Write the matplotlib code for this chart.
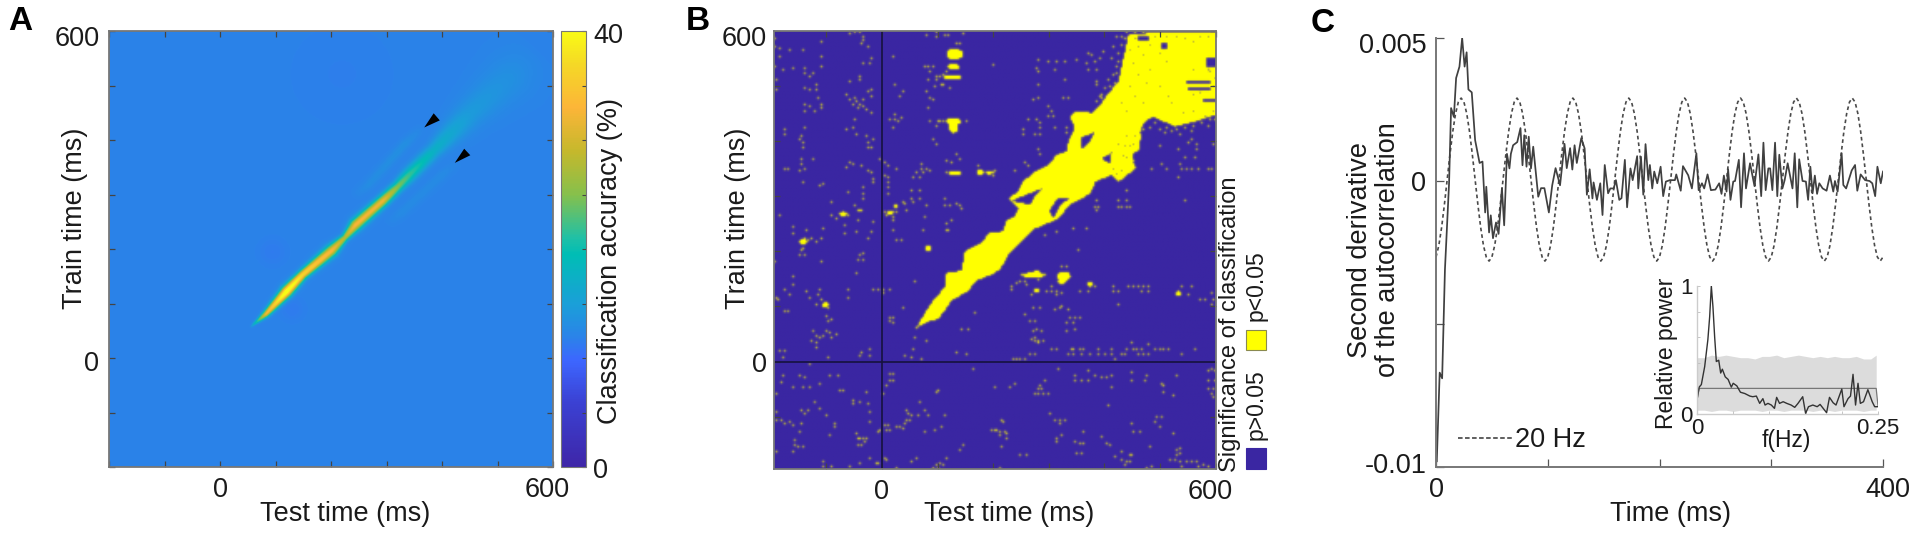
import numpy as np
import matplotlib
matplotlib.use("Agg")
import matplotlib.pyplot as plt
from matplotlib.colors import LinearSegmentedColormap
from matplotlib.patches import Rectangle
from matplotlib.path import Path
from matplotlib.transforms import ScaledTranslation

plt.rcParams['font.family'] = ['Liberation Sans', 'DejaVu Sans']

W, H = 1920, 539
TXT = "#1a1a1a"
SPINE = "#777777"

# ---- panel A: ridge read along the diagonal (ms, ms, %, half width ms)
ridge_test = [55, 61, 83, 120, 149, 201, 225, 244, 293, 320, 341, 385, 451, 525, 570]
ridge_train = [56, 62, 81, 122, 153, 197, 221, 244, 288, 314, 336, 380, 449, 518, 565]
ridge_peak = [12, 17, 32, 43, 37, 33, 28, 33, 32, 25, 22, 17.5, 14.5, 13.3, 12]
ridge_width = [1.5, 1.8, 4, 6.5, 5.5, 7, 4.5, 7, 6.5, 6.5, 8, 9, 18, 28, 30]
lobe_up_test = [240, 267, 333, 368]
lobe_up_train = [295, 317, 392, 425]
lobe_up_peak = [12, 13, 13.3, 12]
lobe_low_test = [300, 326, 400, 430]
lobe_low_train = [245, 266, 336, 362]
lobe_low_peak = [12, 12.8, 12.8, 12]
dark_test = [95, 130, 220]
dark_train = [195, 90, 520]
dark_radius = [18, 16, 70]
dark_drop = [0.6, 0.6, 0.3]
arrow1_test = [368, 385, 396]
arrow1_train = [423, 449, 436]
arrow2_test = [423, 440, 451]
arrow2_train = [358, 384, 372]

# ---- panel B: outline of the significant ribbon
ribbon = [(62, 63), (86, 103), (113, 136), (115, 160), (143, 165), (149, 200), (182, 218),
          (191, 233), (218, 236), (224, 257), (239, 263), (245, 278), (227, 295), (245, 309),
          (254, 327), (275, 345), (299, 357), (314, 375), (332, 381), (335, 399), (347, 423),
          (338, 445), (347, 454), (377, 451), (395, 470), (410, 490), (425, 508), (434, 550),
          (443, 593), (491, 597), (600, 597), (600, 448), (563, 436), (527, 427), (485, 445),
          (467, 430), (461, 384), (449, 378), (455, 351), (425, 327), (413, 339), (383, 327),
          (374, 305), (335, 284), (317, 260), (275, 242), (230, 200), (212, 169), (200, 160),
          (170, 148), (152, 127), (125, 112), (101, 78), (80, 72)]
hole1 = [(358, 408), (383, 417), (371, 396), (356, 384)]
hole2 = [(395, 369), (413, 380), (410, 360), (395, 366)]
hole3 = [(299, 272), (314, 296), (338, 296), (320, 284), (308, 260)]
hole4 = [(233, 293), (263, 305), (290, 316), (275, 300), (266, 284), (239, 290)]
hole5 = [(545, 511), (590, 511), (590, 505), (545, 505)]
hole5b = [(548, 498), (590, 498), (590, 492), (548, 492)]
hole6 = [(575, 478), (600, 478), (600, 472), (575, 472)]
hole7 = [(582, 552), (600, 552), (600, 535), (582, 535)]
hole8 = [(460, 592), (480, 592), (480, 583), (460, 583)]
hole9 = [(500, 580), (512, 580), (512, 566), (500, 566)]
ribbon_holes = [hole1, hole2, hole3, hole4, hole5, hole5b, hole6, hole7, hole8, hole9]
ribbon_gaps = [(500, 560), (510, 545), (470, 555), (480, 530), (460, 520), (475, 505), (500, 500),
               (515, 480), (520, 470), (560, 530), (445, 500), (455, 480), (430, 470), (440, 455),
               (470, 470), (530, 590), (545, 585), (570, 590), (585, 590), (560, 580), (590, 525),
               (585, 530), (480, 575), (490, 590), (510, 590), (455, 585), (460, 570), (450, 540),
               (445, 565), (540, 450), (560, 455), (580, 445), (595, 455), (440, 370), (450, 360),
               (430, 345), (420, 340), (415, 350), (435, 390), (445, 390), (425, 395), (440, 410),
               (455, 410), (465, 400), (475, 395), (560, 485), (570, 488), (595, 500), (597, 515),
               (450, 395), (432, 372), (462, 415)]
ribbon_fringe = [(410, 500), (415, 520), (420, 535), (425, 560), (430, 575), (420, 590), (430, 590), (435, 585),
                 (415, 570), (405, 510), (400, 495), (395, 485), (425, 545), (418, 505), (410, 487), (440, 597),
                 (455, 597), (470, 597), (420, 480), (430, 490), (405, 478), (395, 478), (412, 550), (422, 522),
                 (480, 425), (490, 432), (500, 420), (510, 425), (520, 418), (530, 420), (545, 425), (560, 428),
                 (575, 432), (590, 440), (598, 438), (470, 420), (508, 415), (535, 412), (585, 427), (555, 418)]
# test, train, half widths of the solid yellow patches
blobs = [(130, 558, 14, 10), (128, 535, 10, 5), (125, 516, 17, 3), (128, 436, 14, 5), (128, 425, 8, 10),
         (131, 342, 12, 3), (176, 343, 6, 5), (191, 343, 6, 3), (82, 206, 5, 5), (271, 157, 22, 4),
         (278, 160, 6, 5), (326, 155, 12, 8), (323, 145, 8, 3), (374, 140, 5, 4), (532, 124, 5, 4),
         (278, 129, 5, 3), (-40, 275, 5, 2), (-70, 268, 8, 3), (-103, 103, 6, 4), (-142, 218, 6, 5),
         (16, 271, 6, 3), (24, 283, 4, 3)]
specks_upper_left = [(-193, 587), (-193, 570), (-184, 554), (-184, 569), (-193, 535), (-179, 529), (-161, 532),
    (-167, 564), (-143, 564), (-109, 580), (-109, 554), (-139, 532), (-139, 523), (-130, 517), (-124, 523),
    (-109, 535), (-191, 511), (-191, 493), (-139, 496), (-130, 494), (-119, 501), (-119, 493), (-115, 479),
    (-139, 467), (-130, 463), (-109, 467), (-109, 461), (-139, 454), (-121, 454), (-176, 422), (-176, 413),
    (-139, 425), (-148, 402), (-142, 396), (-142, 388), (-145, 408), (-145, 366), (-145, 357), (-148, 347),
    (-140, 348), (-124, 367), (-175, 350), (-169, 350), (-143, 325), (-107, 322), (-113, 319), (-145, 215),
    (-139, 224), (-133, 221), (-127, 224), (-118, 218), (-109, 224), (-137, 239), (-160, 233), (-161, 243),
    (-143, 206), (-148, 218), (-107, 241), (-91, 289), (-186, 265), (-91, 265), (-82, 260), (-73, 265),
    (-67, 265), (-70, 272), (-61, 266), (-67, 248), (-67, 233), (-47, 235), (-44, 257), (-50, 283), (-35, 315),
    (-35, 305), (-35, 296), (-16, 254), (-20, 236), (-25, 223), (-17, 330), (-17, 324), (-25, 345), (-19, 342),
    (-62, 307), (-52, 357), (-59, 360), (-64, 351), (-38, 356), (-28, 408), (-25, 396), (-26, 387), (-17, 402),
    (-19, 387), (-46, 411), (-52, 423), (-64, 422), (-50, 439), (-58, 475), (-49, 479), (-47, 471), (-40, 466),
    (-34, 463), (-28, 457), (-19, 451), (-52, 466), (-43, 460), (-64, 484), (-35, 475), (-25, 489), (-19, 493),
    (-19, 481), (-40, 511), (-40, 518), (-59, 508), (-34, 541), (-22, 541), (-19, 549), (-37, 578), (-35, 584),
    (-25, 572), (-35, 588), (-60, 595), (-49, 597), (-40, 597)]
specks_upper_mid = [(-6, 366), (5, 360), (11, 354), (5, 336), (11, 335), (26, 349), (11, 324), (10, 315), (10, 305),
    (5, 272), (10, 269), (24, 281), (20, 271), (25, 271), (20, 263), (20, 257), (8, 266), (38, 290), (41, 287),
    (44, 275), (53, 296), (56, 290), (53, 309), (68, 309), (68, 296), (80, 283), (77, 263), (20, 239), (24, 221),
    (34, 221), (74, 237), (14, 439), (22, 448), (22, 439), (28, 437), (34, 442), (20, 554), (22, 503), (31, 480),
    (37, 489), (83, 460), (92, 404), (97, 393), (62, 342), (71, 348), (74, 342), (80, 348), (68, 335), (70, 357),
    (56, 333), (86, 347), (78, 489), (86, 477), (92, 475), (98, 428), (85, 437), (104, 437), (94, 499), (107, 503),
    (110, 503), (121, 497), (98, 517), (104, 517), (83, 534), (77, 535), (92, 535), (86, 526), (83, 511), (98, 511),
    (134, 576), (140, 576), (116, 526), (110, 520), (140, 515), (125, 417), (110, 437), (152, 436), (101, 437),
    (132, 376), (138, 367), (125, 360), (116, 363), (116, 342), (200, 343), (198, 336), (173, 355), (113, 283),
    (122, 283), (134, 287), (140, 284), (143, 278), (113, 296), (125, 255), (115, 251), (116, 237), (119, 237),
    (80, 593), (97, 597), (98, 590), (113, 593), (119, 593), (145, 596), (199, 538), (20, 423)]
specks_upper_right = [(281, 546), (299, 544), (314, 544), (329, 544), (350, 546), (371, 560), (377, 557), (398, 563),
    (392, 550), (383, 544), (368, 541), (371, 529), (386, 529), (278, 532), (281, 526), (311, 529), (329, 511),
    (281, 502), (386, 509), (386, 501), (272, 475), (281, 477), (326, 477), (335, 477), (299, 463), (305, 454),
    (308, 445), (299, 445), (263, 440), (278, 440), (284, 433), (284, 423), (311, 423), (332, 423), (254, 422),
    (254, 413), (275, 411), (284, 411), (332, 414), (281, 384), (284, 376), (257, 360), (263, 354), (239, 345),
    (284, 330), (203, 345), (549, 396), (557, 402), (566, 393), (533, 384), (566, 384), (545, 369), (563, 369),
    (503, 357), (512, 348), (539, 348), (548, 348), (557, 348), (569, 348), (587, 348), (593, 348), (596, 393),
    (536, 357), (533, 333), (485, 348), (545, 293), (500, 390), (383, 281), (389, 281), (425, 281), (431, 281),
    (440, 281), (446, 281), (425, 292), (440, 292), (386, 292), (438, 309), (386, 273), (344, 242), (368, 240),
    (314, 236), (293, 230), (353, 201), (386, 471), (396, 471), (406, 471), (416, 471), (426, 471), (436, 471),
    (390, 481), (402, 481), (414, 481), (426, 481)]
specks_lower_right = [(233, 130), (233, 136), (241, 142), (248, 145), (257, 145), (260, 139), (281, 148), (269, 122),
    (296, 127), (305, 127), (314, 127), (323, 124), (314, 121), (305, 136), (323, 172), (332, 172), (356, 127),
    (371, 127), (383, 136), (416, 135), (416, 127), (425, 127), (443, 137), (452, 137), (461, 136), (470, 137),
    (479, 137), (467, 126), (479, 126), (539, 136), (557, 136), (551, 121), (593, 124), (572, 113), (581, 112),
    (596, 112), (593, 102), (424, 104), (272, 98), (284, 98), (310, 95), (319, 98), (334, 95), (323, 101), (256, 86),
    (266, 74), (274, 74), (338, 80), (347, 80), (356, 80), (332, 69), (344, 69), (332, 54), (347, 57), (272, 55),
    (278, 57), (286, 54), (274, 44), (274, 38), (281, 38), (290, 38), (269, 39), (281, 33), (449, 34), (478, 30),
    (317, -15), (370, -18), (346, -26), (383, -26), (394, -29), (403, -29), (412, -26), (449, -20), (475, -26),
    (530, -26), (587, -18), (593, -14), (598, -18), (347, -35), (359, -35), (370, -35), (292, -35), (447, -35),
    (472, -35), (598, -35), (587, -36), (238, -41), (230, -46), (284, -44), (281, -50), (286, -50), (274, -58),
    (281, -58), (290, -58), (298, -58), (412, -46), (502, -41), (506, -44), (505, -56), (523, -63), (587, -50),
    (596, -50), (592, -58), (596, -64), (407, -79), (302, -95), (215, -106), (218, -111), (311, -106), (320, -106),
    (329, -106), (320, -113), (491, -109), (494, -101), (502, -101), (500, -118), (449, -113), (450, -129), (463, -129),
    (524, -132), (206, -124), (212, -127), (221, -127), (224, -132), (211, -135), (223, -139), (362, -129), (323, -135),
    (313, -139), (314, -147), (395, -138), (347, -147), (355, -150), (362, -150), (404, -150), (410, -151), (482, -156),
    (215, -154), (350, -168), (358, -168), (247, -169), (260, -169), (430, -165), (419, -173), (445, -171), (449, -171),
    (431, -180), (440, -182), (446, -182), (437, -187), (530, -161), (536, -159), (536, -168), (529, -171), (516, -179),
    (527, -178), (536, -182), (548, -183), (557, -183), (566, -183), (537, -191), (569, -191), (578, -188), (587, -191),
    (485, -191), (476, -194), (212, -194)]
row21_test = [305, 314, 341, 344, 356, 362, 389, 413, 439, 452, 458, 466, 490, 500, 506, 514, 562]
row12_test = [266, 275, 335, 344, 359, 374, 389, 401, 413, 431, 437, 460, 470, 479, 539]
row5_test = [236, 242, 248, 257, 419]
specks_lower_left = [(-146, 201), (-148, 193), (-139, 193), (-40, 193), (-34, 195), (-43, 185), (-35, 185), (-109, 181),
    (-194, 181), (-46, 161), (-160, 153), (-161, 139), (-176, 129), (-167, 122), (-137, 127), (-112, 130), (-115, 122),
    (-130, 116), (-191, 115), (-187, 113), (-61, 129), (-62, 116), (-109, 112), (-97, 98), (-118, 103), (-175, 92),
    (-170, 92), (-100, 83), (-97, 72), (-91, 76), (-125, 54), (-100, 55), (-94, 51), (-91, 44), (-112, 42), (-106, 46),
    (-83, 48), (-119, 46), (-127, 36), (-119, 33), (-119, 25), (-185, 18), (-175, 18), (-179, 7), (-97, 8), (-41, 9),
    (-37, 16), (-23, 21), (-23, 10), (-16, 130), (-7, 130), (2, 131), (2, 124), (13, 130), (13, 78), (20, 78), (20, 71),
    (13, 74), (36, 97), (59, 145), (58, 44), (79, 36), (55, 21), (53, 7), (71, 3), (143, 59), (155, 59), (166, 87),
    (134, 15), (152, 12), (61, 60), (-131, -5), (-179, -26), (-148, -26), (-140, -30), (-95, -26), (-80, -26), (-182, -38),
    (-161, -46), (-142, -46), (-130, -46), (-112, -41), (-77, -53), (-71, -53), (-28, -56), (-191, -60), (-53, -72),
    (-53, -78), (-121, -75), (-113, -86), (-41, -75), (-26, -78), (-133, -88), (-23, -92), (-145, -90), (-139, -96),
    (-100, -98), (-22, -109), (-190, -91), (-190, -106), (-182, -106), (-175, -112), (-166, -109), (-160, -115), (-145, -113),
    (-86, -112), (-85, -119), (-149, -127), (-94, -135), (-157, -142), (-157, -152), (-152, -155), (-143, -156), (-160, -165),
    (-47, -130), (-44, -139), (-41, -139), (-35, -139), (-28, -139), (-31, -147), (-44, -153), (-37, -153), (-191, -165),
    (-107, -183), (-106, -190), (-92, -190), (-59, -191), (-40, -185), (-22, -176), (-10, -185), (-7, -185), (-7, -127),
    (-4, -124), (7, -124), (13, -124), (5, -115), (11, -115), (13, -24), (19, -23), (14, -35), (20, -35), (8, -44), (1, -58),
    (40, 11), (162, -15), (202, -46), (98, -56), (101, -53), (68, -75), (43, -88), (47, -95), (53, -97), (65, -97), (77, -90),
    (83, -99), (44, -106), (49, -106), (41, -112), (26, -118), (32, -118), (37, -123), (113, -97), (107, -120), (94, -124),
    (77, -129), (145, -153), (139, -161), (116, -176), (62, -175), (53, -182), (5, -176), (8, -180), (26, -194), (98, -187),
    (104, -185), (109, -188), (92, -194), (101, -194), (197, -124), (202, -124)]

# ---- panel C: second derivative (1e-3)
curve_t = [0.7, 3.3, 5.5, 8, 11.7, 13.5, 16, 18, 21, 23.4, 25.6, 27.4, 29, 32, 35, 39, 41.6, 44, 45, 47.5, 49, 51, 53.7, 56,
    59, 61, 63.5, 65.7, 67, 69, 72.7, 75.6, 77.4, 79, 81, 83, 85, 87, 91.5, 94, 97, 101, 104, 107, 111, 115, 117, 120, 122,
    124, 126, 130, 133, 135, 137.5, 140, 141, 144, 147, 149, 151, 154, 156, 159, 161, 164, 166, 169, 171, 174, 176, 180,
    181, 183.4, 185.5, 187.5, 190, 191.4, 193.5, 195.3, 198, 201, 203.3, 205.7, 209.3, 213.8, 215, 219, 221, 225.7, 229,
    233, 235, 238, 240, 243, 246, 250, 253.4, 255.5, 257.6, 260, 261.4, 263.5, 266, 267.6, 271, 273, 275.6, 277.4, 281,
    285, 286, 288.5, 291, 293, 295, 297.4, 299, 301, 303.4, 305.4, 307.2, 310, 312, 314.7, 319, 321, 323.3, 325, 328,
    331, 333, 335, 337, 339, 341, 343, 346, 349.5, 352.5, 355.5, 357, 359.4, 363, 364.5, 367, 372, 375, 377, 380, 384,
    388, 390.4, 393, 395, 398, 400]
curve_v = [-9.8, -6.7, -6.9, -3.1, -0.07, 2.55, 2.24, 3.6, 4.0, 5.0, 4.0, 4.5, 3.2, 3.1, 1.43, 0.63, 0.68, -1.1, -0.2, -1.8,
    -1.2, -2.0, -1.45, -1.85, -0.25, -1.55, 0.95, 0.44, 0.95, 1.25, 1.36, 1.85, 0.55, 1.6, 0.5, 1.55, 0.44, 1.2, -0.55,
    -0.25, -0.25, -1.1, -0.15, 0.45, -0.15, 1.3, 0.45, 1.15, 0.4, 1.25, 0.63, 1.5, 1.14, -0.48, 0.41, -0.61, -0.05, -0.66,
    -0.08, -1.19, 0.56, -0.43, -0.26, -0.26, 0.03, -0.66, -0.6, 0.74, -0.92, 0.44, 0.03, 0.87, -0.26, 0.85, -0.48, 1.29,
    0.03, 0.56, -0.26, 0.33, -0.08, 0.5, -0.53, -0.02, 0.03, 0.03, 0.23, -0.34, 0.52, 0.2, -0.26, 0.97, -0.32, -0.08,
    -0.26, 0.23, -0.32, -0.3, -0.08, -0.45, 0.19, -0.37, 0.41, -0.66, -0.02, 0.0, 0.74, -0.92, 0.97, -0.26, 0.62, -0.18,
    0.15, 0.93, -0.53, 1.34, -0.32, 0.44, 0.44, -0.32, 1.34, -0.53, 0.92, -0.26, 0.03, 0.62, -0.26, 0.97, -0.92, 0.76,
    0.0, -0.02, -0.66, 0.5, -0.43, 0.19, -0.45, -0.08, -0.26, -0.34, 0.19, -0.37, 0.0, -0.37, 0.97, -0.14, -0.26, 0.37,
    0.56, -0.34, 0.23, 0.03, 0.0, -0.08, -0.53, 0.5, -0.08, 0.33]
# 20 Hz reference, one value every 2.5 ms (1e-3)
sine_t = np.arange(0, 400.1, 2.5)
sine_v = [-2.66, -2.26, -1.63, -0.83, 0.05, 0.93, 1.73, 2.36, 2.76, 2.9, 2.76, 2.36, 1.73, 0.93, 0.05, -0.83, -1.63, -2.26, -2.66, -2.8,
          -2.66, -2.26, -1.63, -0.83, 0.05, 0.93, 1.73, 2.36, 2.76, 2.9, 2.76, 2.36, 1.73, 0.93, 0.05, -0.83, -1.63, -2.26, -2.66, -2.8,
          -2.66, -2.26, -1.63, -0.83, 0.05, 0.93, 1.73, 2.36, 2.76, 2.9, 2.76, 2.36, 1.73, 0.93, 0.05, -0.83, -1.63, -2.26, -2.66, -2.8,
          -2.66, -2.26, -1.63, -0.83, 0.05, 0.93, 1.73, 2.36, 2.76, 2.9, 2.76, 2.36, 1.73, 0.93, 0.05, -0.83, -1.63, -2.26, -2.66, -2.8,
          -2.66, -2.26, -1.63, -0.83, 0.05, 0.93, 1.73, 2.36, 2.76, 2.9, 2.76, 2.36, 1.73, 0.93, 0.05, -0.83, -1.63, -2.26, -2.66, -2.8,
          -2.66, -2.26, -1.63, -0.83, 0.05, 0.93, 1.73, 2.36, 2.76, 2.9, 2.76, 2.36, 1.73, 0.93, 0.05, -0.83, -1.63, -2.26, -2.66, -2.8,
          -2.66, -2.26, -1.63, -0.83, 0.05, 0.93, 1.73, 2.36, 2.76, 2.9, 2.76, 2.36, 1.73, 0.93, 0.05, -0.83, -1.63, -2.26, -2.66, -2.8,
          -2.66, -2.26, -1.63, -0.83, 0.05, 0.93, 1.73, 2.36, 2.76, 2.9, 2.76, 2.36, 1.73, 0.93, 0.05, -0.83, -1.63, -2.26, -2.66, -2.8,
          -2.66]

# ---- inset: relative power
power_f = [0, .003, .006, .0106, .015, .0175, .0198, .022, .0244, .0267, .03, .0327, .035, .039, .043, .0474, .05, .055, .06, .066,
    .073, .077, .082, .0866, .091, .094, .098, .1027, .107, .11, .114, .119, .124, .13, .135, .1395, .146, .15, .154, .16, .166,
    .17, .179, .183, .188, .192, .2, .203, .2086, .212, .2155, .219, .2224, .2256, .23, .236, .242, .2454, .25]
power_v = [.11, .21, .23, .37, .58, .76, 1.0, .84, .6, .41, .42, .32, .35, .29, .27, .21, .24, .22, .17, .16, .14, .135, .14, .083,
    .12, .07, .083, .07, .044, .13, .083, .096, .083, .07, .052, .083, .135, .005, .057, .07, .057, .075, .01, .13, .088, .07,
    .195, .057, .12, .14, .31, .07, .24, .083, .096, .19, .096, .057, .057]
shade_f = [0, .01, .02, .03, .04, .05, .06, .07, .08, .09, .10, .11, .12, .13, .14, .15, .16, .17, .18, .19, .20, .21, .22, .23, .24, .2475]
shade_top = [.44, .44, .46, .45, .46, .45, .44, .44, .43, .45, .45, .46, .44, .45, .46, .45, .44, .45, .44, .45, .44, .44, .45, .43, .43, .46]
shade_low = [.03, .03, .02, .03, .03, .02, .03, .03, .03, .02, .03, .03, .02, .03, .03, .03, .02, .03, .03, .02, .03, .03, .03, .02, .03, .03]
mean_f = [0, .003, .05, .10, .15, .20, .2475, .25]
mean_v = [.11, .2, .2, .2, .2, .2, .2, .06]


def px_axes(fig, left, top, right, bottom):
    return fig.add_axes([left / W, 1 - bottom / H, (right - left) / W, (bottom - top) / H])


def ftext(fig, x, y, s, **kw):
    kw.setdefault('color', TXT)
    kw.setdefault('ha', 'center')
    kw.setdefault('va', 'center')
    return fig.text(x / W, 1 - y / H, s, **kw)


def shift_label(fig, label, dx, dy):
    # nudge one tick label by pixels, the journal figure has them off the ticks
    label.set_transform(label.get_transform() + ScaledTranslation(dx / 100, -dy / 100, fig.dpi_scale_trans))


def style_ax(ax, width=1.3):
    for s in ax.spines.values():
        s.set_color(SPINE)
        s.set_linewidth(width)
    ax.tick_params(direction='in', length=4, width=0.9, color='#444444', top=True, right=True, labelsize=19.5, labelcolor=TXT)


parula = LinearSegmentedColormap.from_list('parula_like', [
    (0.0, '#3e26a8'), (6 / 40, '#3b42d4'), (9.7 / 40, '#3d66ff'), (12 / 40, '#2a84e8'), (15 / 40, '#1aa0d8'),
    (19.5 / 40, '#00bdb5'), (21 / 40, '#1fc0a6'), (25 / 40, '#86c04c'), (29 / 40, '#c5b82c'), (33 / 40, '#fcb538'),
    (37 / 40, '#f5d826'), (1.0, '#f9fb15')])

fig = plt.figure(figsize=(W / 100, H / 100), dpi=100)

# ---------------- A
ax = px_axes(fig, 109, 31, 553, 467)
grid = np.arange(-198, 600, 2.0)
xx, yy = np.meshgrid(grid, grid)
along = (xx + yy) / 2
across = (xx - yy) / np.sqrt(2)
acc = np.full(xx.shape, 12.0)
knots_u = (np.array(ridge_test) + np.array(ridge_train)) / 2
offs = (np.array(ridge_test) - np.array(ridge_train)) / np.sqrt(2)
peak = np.interp(along, knots_u, ridge_peak, left=12, right=12)
wid = np.interp(along, knots_u, ridge_width)
acc = np.maximum(acc, 12 + (peak - 12) * np.exp(-(across - np.interp(along, knots_u, offs)) ** 2 / (2 * wid ** 2)))
for t_k, tr_k, p_k in [(lobe_up_test, lobe_up_train, lobe_up_peak), (lobe_low_test, lobe_low_train, lobe_low_peak)]:
    u_k = (np.array(t_k) + np.array(tr_k)) / 2
    o_k = (np.array(t_k) - np.array(tr_k)) / np.sqrt(2)
    p = np.interp(along, u_k, p_k, left=12, right=12)
    acc = np.maximum(acc, 12 + (p - 12) * np.exp(-(across - np.interp(along, u_k, o_k)) ** 2 / (2 * 6.0 ** 2)))
for cx, cy, r, d in zip(dark_test, dark_train, dark_radius, dark_drop):
    acc -= d * np.exp(-((xx - cx) ** 2 + (yy - cy) ** 2) / (2 * r ** 2))
im = ax.imshow(acc, origin='lower', extent=[-200, 600, -200, 600], cmap=parula, vmin=0, vmax=40,
               aspect='auto', interpolation='bilinear')
ax.fill(arrow1_test, arrow1_train, color='black', lw=0)
ax.fill(arrow2_test, arrow2_train, color='black', lw=0)
ax.set_xlim(-200, 600)
ax.set_ylim(-200, 600)
ticks = list(range(-200, 601, 100))
labels = ['0' if t == 0 else '600' if t == 600 else '' for t in ticks]
ax.set_xticks(ticks)
ax.set_xticklabels(labels)
ax.set_yticks(ticks)
ax.set_yticklabels(labels)
style_ax(ax)
ax.tick_params(pad=7)
shift_label(fig, ax.get_xticklabels()[-1], -6, 0)
shift_label(fig, ax.get_yticklabels()[-1], 0, 5)
shift_label(fig, ax.get_yticklabels()[2], 0, 3)
ftext(fig, 345, 514, 'Test time (ms)', fontsize=19.5)
ftext(fig, 75, 218, 'Train time (ms)', fontsize=19.5, rotation=90)
ftext(fig, 20, 22, 'A', fontsize=24, fontweight='bold', color='black')

cax = px_axes(fig, 561, 31, 586, 467)
cb = fig.colorbar(im, cax=cax)
cb.set_ticks(list(range(0, 41, 5)))
cb.set_ticklabels(['0', '', '', '', '', '', '', '', '40'])
cb.outline.set_edgecolor(SPINE)
cax.tick_params(direction='in', length=3, width=0.8, color='#444444', labelsize=19.5, labelcolor=TXT, pad=5)
shift_label(fig, cax.get_yticklabels()[-1], 0, 2)
shift_label(fig, cax.get_yticklabels()[0], 0, 1)
ftext(fig, 610, 261, 'Classification accuracy (%)', fontsize=19.5, rotation=90)

# ---------------- B
ax = px_axes(fig, 773.5, 31, 1215.5, 469)
cell = 3.0
cx_b = np.arange(-195 + cell / 2, 600, cell)
cy_b = np.arange(-195 + cell / 2, 600, cell)
gx, gy = np.meshgrid(cx_b, cy_b)
pts = np.column_stack([gx.ravel(), gy.ravel()])
sig = Path(ribbon + [ribbon[0]]).contains_points(pts).reshape(gx.shape).astype(float)
for hole in ribbon_holes:
    sig[Path(hole + [hole[0]]).contains_points(pts).reshape(gx.shape)] = 0
for tx, ty, rx, ry in blobs:
    sig[((gx - tx) / max(rx, cell / 2)) ** 2 + ((gy - ty) / max(ry, cell / 2)) ** 2 <= 1] = 1


def set_cell(t, v, val):
    i = int((v + 195) // cell)
    j = int((t + 195) // cell)
    if 0 <= i < sig.shape[0] and 0 <= j < sig.shape[1]:
        sig[i, j] = val


for group in [specks_upper_left, specks_upper_mid, specks_upper_right, specks_lower_right, specks_lower_left, ribbon_fringe]:
    for t, v in group:
        set_cell(t, v, 1)
for t in row21_test:
    set_cell(t, 21, 1)
for t in row12_test:
    set_cell(t, 12, 1)
for t in row5_test:
    set_cell(t, 5, 1)
for t, v in ribbon_gaps:
    set_cell(t, v, 0)
# the published raster is soft: single cells come out dim, clusters bright
soft = np.pad(sig, 1, mode='edge')
soft = 0.18 * soft[:-2, 1:-1] + 0.64 * soft[1:-1, 1:-1] + 0.18 * soft[2:, 1:-1]
soft = np.pad(soft, 1, mode='edge')
soft = 0.18 * soft[1:-1, :-2] + 0.64 * soft[1:-1, 1:-1] + 0.18 * soft[1:-1, 2:]
sig_cmap = LinearSegmentedColormap.from_list('sig', ['#3a26a2', '#ffff00'])
ax.imshow(soft, origin='lower', extent=[-195, 600, -195, 600], cmap=sig_cmap, vmin=0, vmax=0.85,
          aspect='auto', interpolation='bilinear')
ax.axvline(0, color='#16123f', lw=1.2)
ax.axhline(0, color='#16123f', lw=1.2)
ax.set_xlim(-195, 600)
ax.set_ylim(-195, 600)
ticks_b = list(range(-100, 601, 100))
labels_b = ['0' if t == 0 else '600' if t == 600 else '' for t in ticks_b]
ax.set_xticks(ticks_b)
ax.set_xticklabels(labels_b)
ax.set_yticks(ticks_b)
ax.set_yticklabels(labels_b)
style_ax(ax)
ax.tick_params(pad=5)
ax.tick_params(axis='x', pad=7)
shift_label(fig, ax.get_xticklabels()[-1], -5, 0)
shift_label(fig, ax.get_yticklabels()[-1], 0, 5)
ftext(fig, 1009, 514, 'Test time (ms)', fontsize=19.5)
ftext(fig, 738, 218, 'Train time (ms)', fontsize=19.5, rotation=90)
ftext(fig, 698, 22, 'B', fontsize=24, fontweight='bold', color='black')
ftext(fig, 1230, 324, 'Significance of classification', fontsize=17, rotation=90)
ftext(fig, 1256, 286, 'p<0.05', fontsize=16.5, rotation=90)
ftext(fig, 1256, 405, 'p>0.05', fontsize=16.5, rotation=90)
fig.add_artist(Rectangle((1246 / W, 1 - 350 / H), 20 / W, 20 / H, transform=fig.transFigure,
                         facecolor='#ffff00', edgecolor='#8a8a50', lw=0.8))
fig.add_artist(Rectangle((1246 / W, 1 - 469 / H), 20 / W, 21 / H, transform=fig.transFigure,
                         facecolor='#3a26a2', edgecolor='#3a26a2', lw=0.8))

# ---------------- C
ax = px_axes(fig, 1436, 38, 1883, 467)
ax.plot(sine_t, np.array(sine_v) * 1e-3, color='#4a4a4a', lw=1.2, ls=(0, (2.2, 1.8)))
ax.plot(curve_t, np.array(curve_v) * 1e-3, color='#404040', lw=1.25)
ax.set_xlim(0, 400)
ax.set_ylim(-0.01, 0.005)
ax.set_xticks([0, 100, 200, 300, 400])
ax.set_xticklabels(['0', '', '', '', '400'])
ax.set_yticks([-0.01, -0.005, 0, 0.005])
ax.set_yticklabels(['-0.01', '', '0', '0.005'])
for s in ['top', 'right']:
    ax.spines[s].set_visible(False)
for s in ['left', 'bottom']:
    ax.spines[s].set_color(SPINE)
    ax.spines[s].set_linewidth(1.4)
ax.tick_params(direction='in', length=6, width=0.9, color='#555555', labelsize=19.5, labelcolor=TXT, pad=7)
shift_label(fig, ax.get_yticklabels()[3], 0, 5)
shift_label(fig, ax.get_yticklabels()[0], 0, -4)
shift_label(fig, ax.get_xticklabels()[-1], 5, 0)
ftext(fig, 1670, 514, 'Time (ms)', fontsize=19.5)
ftext(fig, 1360, 250, 'Second derivative', fontsize=19.5, rotation=90)
ftext(fig, 1388, 250, 'of the autocorrelation', fontsize=19.5, rotation=90)
ftext(fig, 1323, 23, 'C', fontsize=24, fontweight='bold', color='black')
fig.add_artist(plt.Line2D([1458 / W, 1513 / W], [1 - 438 / H, 1 - 438 / H], transform=fig.transFigure,
                          color='#333333', lw=1.1, ls=(0, (3, 1.6))))
ftext(fig, 1515, 440, '20 Hz', fontsize=19.5, ha='left')

# inset
ins = px_axes(fig, 1697, 286, 1878, 414)
ins.patch.set_alpha(0)
ins.fill_between(shade_f, shade_low, shade_top, color='#dcdcdc', lw=0)
ins.plot(mean_f, mean_v, color='#777777', lw=0.9)
ins.plot(power_f, power_v, color='#333333', lw=1.0)
ins.set_xlim(0, 0.25)
ins.set_ylim(0, 1)
ins.set_xticks([0, 0.05, 0.1, 0.15, 0.2, 0.25])
ins.set_xticklabels(['0', '', '', '', '', '0.25'])
ins.set_yticks([0, 0.2, 0.4, 0.6, 0.8, 1])
ins.set_yticklabels(['0', '', '', '', '', '1'])
for s in ['top', 'right']:
    ins.spines[s].set_visible(False)
for s in ['left', 'bottom']:
    ins.spines[s].set_color('#cccccc')
    ins.spines[s].set_linewidth(1.0)
ins.tick_params(direction='in', length=2, width=0.6, color='#bbbbbb', labelsize=16, labelcolor=TXT, pad=3)
ftext(fig, 1786, 440, 'f(Hz)', fontsize=16.5)
ftext(fig, 1666, 353, 'Relative power', fontsize=16.5, rotation=90)

fig.savefig('out.png', dpi=100)
